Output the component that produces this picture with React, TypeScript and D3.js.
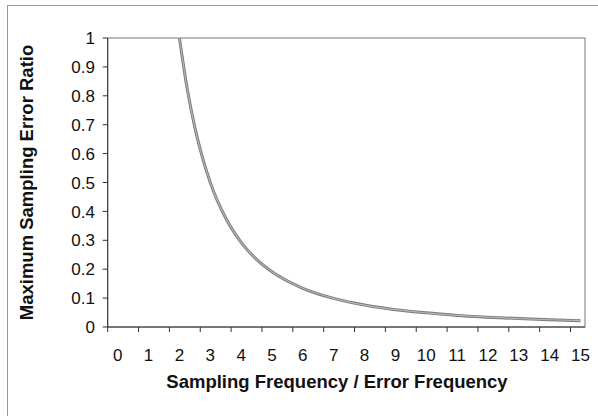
import React, { useEffect, useRef } from "react";
import * as d3 from "d3";

// ratio
const ratioX = [2, 2.25, 2.5, 2.75, 3, 3.5, 4, 4.5, 5, 6, 7, 8, 9, 10, 11, 12, 13, 14, 15];
const ratioY = [1.0, 0.826, 0.691, 0.585, 0.5, 0.377, 0.293, 0.234, 0.191, 0.134, 0.099, 0.076, 0.06, 0.049, 0.04, 0.034, 0.029, 0.025, 0.022];
const xTicks = d3.range(0, 16);
const yTicks = [0, 0.1, 0.2, 0.3, 0.4, 0.5, 0.6, 0.7, 0.8, 0.9, 1];

export default function App() {
    const ref = useRef<SVGSVGElement>(null);

    useEffect(() => {
        document.body.style.margin = "0";
        const width = 598, height = 416;
        const svg = d3.select(ref.current);
        svg.selectAll("*").remove();
        svg.attr("width", width).attr("height", height);

        const font = "'Liberation Sans', Arial, sans-serif";
        const x = d3.scaleLinear().domain([0, 15]).range([117.7, 580.5]);
        const y = d3.scaleLinear().domain([0, 1]).range([327, 38]);
        const left = x(0) - 10, right = 585;

        // outer chart frame
        svg.append("rect")
            .attr("x", 7.5).attr("y", 5.5)
            .attr("width", 620).attr("height", 420)
            .attr("fill", "white").attr("stroke", "#999").attr("stroke-width", 1);

        // plot area border
        svg.append("rect")
            .attr("x", left).attr("y", y(1))
            .attr("width", right - left).attr("height", y(0) - y(1))
            .attr("fill", "none").attr("stroke", "#777").attr("stroke-width", 1);

        // axes lines
        svg.append("line")
            .attr("x1", left).attr("x2", left).attr("y1", y(1)).attr("y2", y(0))
            .attr("stroke", "#333");
        svg.append("line")
            .attr("x1", left).attr("x2", right).attr("y1", y(0)).attr("y2", y(0))
            .attr("stroke", "#333");

        // y ticks
        const gy = svg.append("g");
        gy.selectAll("line").data(yTicks).enter().append("line")
            .attr("x1", left - 5).attr("x2", left)
            .attr("y1", d => y(d)).attr("y2", d => y(d))
            .attr("stroke", "#333");
        gy.selectAll("text").data(yTicks).enter().append("text")
            .attr("x", 95).attr("y", d => y(d))
            .attr("dy", "0.36em")
            .attr("text-anchor", "end")
            .attr("font-family", font).attr("font-size", 17)
            .attr("fill", "#111")
            .text(d => String(d));

        // x ticks
        const gx = svg.append("g");
        gx.selectAll("line").data(xTicks).enter().append("line")
            .attr("x1", d => x(d) - 10).attr("x2", d => x(d) - 10)
            .attr("y1", y(0)).attr("y2", y(0) + 5)
            .attr("stroke", "#333");
        gx.selectAll("text").data(xTicks).enter().append("text")
            .attr("x", d => x(d)).attr("y", 361)
            .attr("text-anchor", "middle")
            .attr("font-family", font).attr("font-size", 17)
            .attr("fill", "#111")
            .text(d => String(d));

        // axis titles
        svg.append("text")
            .attr("x", 337).attr("y", 388)
            .attr("text-anchor", "middle")
            .attr("font-family", font).attr("font-size", 18.5).attr("font-weight", "bold")
            .attr("fill", "#111")
            .text("Sampling Frequency / Error Frequency");
        svg.append("text")
            .attr("transform", `translate(33, ${(y(0) + y(1)) / 2}) rotate(-90)`)
            .attr("text-anchor", "middle")
            .attr("font-family", font).attr("font-size", 18.5).attr("font-weight", "bold")
            .attr("fill", "#111")
            .text("Maximum Sampling Error Ratio");

        // curve
        const pts = ratioX.map((v, i) => [v, ratioY[i]] as [number, number]);
        const line = d3.line<[number, number]>()
            .x(d => x(d[0])).y(d => y(d[1]))
            .curve(d3.curveMonotoneX);
        svg.append("path")
            .attr("d", line(pts))
            .attr("fill", "none")
            .attr("stroke", "#7a7a7a")
            .attr("stroke-width", 3);
        svg.append("path")
            .attr("d", line(pts))
            .attr("fill", "none")
            .attr("stroke", "#b5b5b5")
            .attr("stroke-width", 1.2);
    }, []);

    return (
        <div>
            <svg ref={ref} style={{ display: "block" }}></svg>
        </div>
    );
}
